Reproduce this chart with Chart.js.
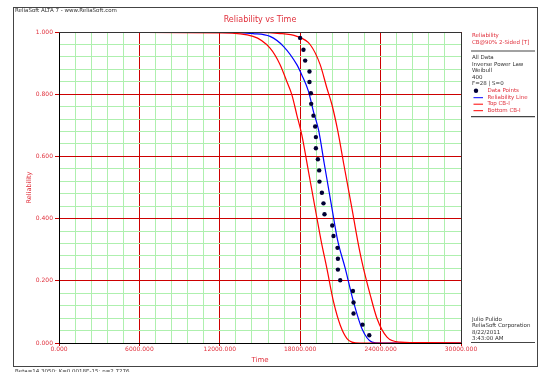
<!DOCTYPE html>
<html>
<head>
<meta charset="utf-8">
<title>Reliability vs Time</title>
<script src="https://cdn.jsdelivr.net/npm/chart.js@4/dist/chart.umd.min.js"></script>
<style>
    html, body { margin: 0; padding: 0; background: #fff; }
    #wrap { width: 540px; height: 372px; }
</style>
</head>
<body>
<div id="wrap"><canvas id="relChart" width="540" height="372"></canvas></div>
<script>
// Data points (failure times and median rank reliability)
const pointTimes = [17996, 18243, 18370, 18692, 18692, 18796, 18819, 18991, 19118, 19170,
    19170, 19320, 19417, 19439, 19619, 19738, 19813, 20389, 20486, 20785,
    20815, 20815, 20987, 21936, 21981, 21981, 22654, 23155];
const pointRel = [0.981, 0.943, 0.908, 0.873, 0.839, 0.803, 0.769, 0.731, 0.696, 0.662,
    0.626, 0.591, 0.555, 0.519, 0.483, 0.449, 0.414, 0.378, 0.344, 0.306,
    0.271, 0.236, 0.202, 0.167, 0.130, 0.095, 0.059, 0.025];

// Reliability line
const relTimes = [0, 12000, 14480, 15750, 16750, 17750, 18120, 18620, 18990, 19370,
    19790, 20390, 20790, 21360, 21980, 22610, 23360, 23980, 30000];
const relValues = [1, 0.999, 0.995, 0.986, 0.954, 0.895, 0.862, 0.809, 0.744, 0.685,
    0.578, 0.428, 0.331, 0.240, 0.132, 0.046, 0.003, 0, 0];

// Top confidence bound
const topTimes = [1000, 12000, 16500, 17750, 18750, 19490, 19990, 20370, 20790, 21240,
    21880, 22280, 22610, 23230, 23730, 24480, 25470, 27470, 30000];
const topValues = [1, 1, 0.995, 0.986, 0.959, 0.895, 0.820, 0.766, 0.685, 0.578,
    0.428, 0.331, 0.261, 0.154, 0.079, 0.019, 0.003, 0.001, 0];

// Bottom confidence bound
const bottomTimes = [1000, 12000, 14480, 15750, 16500, 17000, 17380, 17750, 18120, 18640,
    19230, 19550, 19990, 20490, 20990, 21490, 21860, 22480, 30000];
const bottomValues = [1, 0.997, 0.986, 0.948, 0.895, 0.841, 0.798, 0.733, 0.669, 0.546,
    0.406, 0.331, 0.240, 0.132, 0.057, 0.014, 0.003, 0, 0];

// Axis ticks
const xMajorTicks = [0, 6000, 12000, 18000, 24000, 30000];
const xTickLabels = ['0.000', '6000.000', '12000.000', '18000.000', '24000.000', '30000.000'];
const yMajorTicks = [0, 0.2, 0.4, 0.6, 0.8, 1];
const yTickLabels = ['0.000', '0.200', '0.400', '0.600', '0.800', '1.000'];

// Side panel text
const panelHeader = ['Reliability', 'CB@90% 2-Sided [T]'];
const panelInfo = ['All Data', 'Inverse Power Law', 'Weibull', '400', 'F=28 | S=0'];
const legendLabels = ['Data Points', 'Reliability Line', 'Top CB-I', 'Bottom CB-I'];
const footerInfo = ['Julio Pulido', 'ReliaSoft Corporation', '8/22/2011', '3:43:00 AM'];

const RED = '#ff0000';
const BLUE = '#0000ff';
const TEXT_RED = '#e0303c';
const MAJOR_GRID = '#cc0000';
const MINOR_GRID = '#aef0ae';
const MARKER = '#000033';
const FONT = '"DejaVu Sans", Verdana, sans-serif';

Chart.defaults.font.family = FONT;

const toXY = (xs, ys) => xs.map((x, i) => ({ x: x, y: ys[i] }));
const xMajorIndex = v => xMajorTicks.findIndex(t => Math.abs(t - v) < 1e-6);
const yMajorIndex = v => yMajorTicks.findIndex(t => Math.abs(t - v) < 1e-6);

// Frame, header, title, side panel and footer
const decorPlugin = {
    id: 'decor',
    afterDraw(chart) {
        const ctx = chart.ctx;
        const a = chart.chartArea;
        ctx.save();

        // outer frame
        ctx.strokeStyle = '#444';
        ctx.lineWidth = 1;
        ctx.strokeRect(13.5, 7.5, 524, 359);

        // top and right border of the plot
        ctx.strokeStyle = '#333';
        ctx.beginPath();
        ctx.moveTo(a.left, a.top + 0.5);
        ctx.lineTo(a.right + 0.5, a.top + 0.5);
        ctx.lineTo(a.right + 0.5, a.bottom);
        ctx.stroke();

        // header
        ctx.textBaseline = 'middle';
        ctx.textAlign = 'left';
        ctx.fillStyle = '#333';
        ctx.font = '5.5px ' + FONT;
        ctx.fillText('ReliaSoft ALTA 7 - www.ReliaSoft.com', 15, 11);

        // title
        ctx.textAlign = 'center';
        ctx.fillStyle = TEXT_RED;
        ctx.font = '8px ' + FONT;
        ctx.fillText('Reliability vs Time', (a.left + a.right) / 2, 20);

        // side panel
        const px = 472;
        ctx.textAlign = 'left';
        ctx.font = '5.5px ' + FONT;
        ctx.fillStyle = TEXT_RED;
        panelHeader.forEach((t, i) => ctx.fillText(t, px, 36 + i * 7));

        ctx.strokeStyle = '#444';
        ctx.lineWidth = 1.2;
        ctx.beginPath();
        ctx.moveTo(471, 51); ctx.lineTo(535, 51);
        ctx.moveTo(471, 116.7); ctx.lineTo(535, 116.7);
        ctx.moveTo(471, 342.5); ctx.lineTo(535, 342.5);
        ctx.stroke();

        ctx.fillStyle = '#333';
        panelInfo.forEach((t, i) => ctx.fillText(t, px, 58 + i * 6.5));

        const legendY = 90.7;
        legendLabels.forEach((t, i) => {
            const y = legendY + i * 6.5;
            if (i === 0) {
                ctx.fillStyle = MARKER;
                ctx.beginPath();
                ctx.arc(476, y, 2.2, 0, Math.PI * 2);
                ctx.fill();
            } else {
                ctx.strokeStyle = i === 1 ? BLUE : RED;
                ctx.lineWidth = 1;
                ctx.beginPath();
                ctx.moveTo(473.5, y + 0.5);
                ctx.lineTo(483, y + 0.5);
                ctx.stroke();
            }
            ctx.fillStyle = TEXT_RED;
            ctx.fillText(t, 487.5, y);
        });

        // footer on the right
        ctx.fillStyle = '#333';
        footerInfo.forEach((t, i) => ctx.fillText(t, px, 319.5 + i * 6.5));

        // bottom line of the page (cut off)
        ctx.textBaseline = 'top';
        ctx.fillText('Beta=14.3050; K=0.0018E-15; n=2.7276', 15, 369);

        ctx.restore();
    }
};

const ctx = document.getElementById('relChart').getContext('2d');
new Chart(ctx, {
    type: 'scatter',
    data: {
        datasets: [
            {
                label: 'Data Points',
                data: toXY(pointTimes, pointRel),
                pointStyle: 'circle',
                pointRadius: 2.2,
                pointBackgroundColor: MARKER,
                pointBorderWidth: 0,
                showLine: false
            },
            {
                label: 'Top CB-I',
                data: toXY(topTimes, topValues),
                showLine: true,
                borderColor: RED,
                borderWidth: 1.2,
                pointRadius: 0,
                cubicInterpolationMode: 'monotone'
            },
            {
                label: 'Bottom CB-I',
                data: toXY(bottomTimes, bottomValues),
                showLine: true,
                borderColor: RED,
                borderWidth: 1.2,
                pointRadius: 0,
                cubicInterpolationMode: 'monotone'
            },
            {
                label: 'Reliability Line',
                data: toXY(relTimes, relValues),
                showLine: true,
                borderColor: BLUE,
                borderWidth: 1.2,
                pointRadius: 0,
                cubicInterpolationMode: 'monotone'
            }
        ]
    },
    options: {
        responsive: false,
        animation: false,
        devicePixelRatio: 1,
        layout: {
            padding: { left: 0, right: 79, top: 32, bottom: 0 }
        },
        plugins: {
            legend: { display: false },
            tooltip: { enabled: false }
        },
        scales: {
            x: {
                type: 'linear',
                min: 0,
                max: 30000,
                afterFit: scale => { scale.height = 29; },
                border: { color: '#000', width: 1 },
                grid: {
                    color: c => xMajorIndex(c.tick.value) >= 0 ? MAJOR_GRID : MINOR_GRID,
                    tickColor: c => xMajorIndex(c.tick.value) >= 0 ? MAJOR_GRID : 'rgba(0,0,0,0)',
                    tickLength: 3,
                    lineWidth: 1
                },
                ticks: {
                    stepSize: 1200,
                    maxTicksLimit: 40,
                    autoSkip: false,
                    maxRotation: 0,
                    padding: 0,
                    color: TEXT_RED,
                    font: { size: 6 },
                    callback: v => {
                        const i = xMajorIndex(v);
                        return i >= 0 ? xTickLabels[i] : '';
                    }
                },
                title: {
                    display: true,
                    text: 'Time',
                    color: TEXT_RED,
                    font: { size: 7 },
                    padding: { top: 0, bottom: 8 }
                }
            },
            y: {
                type: 'linear',
                min: 0,
                max: 1,
                afterFit: scale => { scale.width = 59; },
                border: { color: '#000', width: 1 },
                grid: {
                    color: c => yMajorIndex(c.tick.value) >= 0 ? MAJOR_GRID : MINOR_GRID,
                    tickColor: c => yMajorIndex(c.tick.value) >= 0 ? MAJOR_GRID : 'rgba(0,0,0,0)',
                    tickLength: 4,
                    lineWidth: 1
                },
                ticks: {
                    stepSize: 0.04,
                    maxTicksLimit: 40,
                    autoSkip: false,
                    padding: 2,
                    color: TEXT_RED,
                    font: { size: 6 },
                    callback: v => {
                        const i = yMajorIndex(v);
                        return i >= 0 ? yTickLabels[i] : '';
                    }
                },
                title: {
                    display: true,
                    text: 'Reliability',
                    color: TEXT_RED,
                    font: { size: 6.5 },
                    padding: { top: 25, bottom: 0 }
                }
            }
        }
    },
    plugins: [decorPlugin]
});
</script>
</body>
</html>
